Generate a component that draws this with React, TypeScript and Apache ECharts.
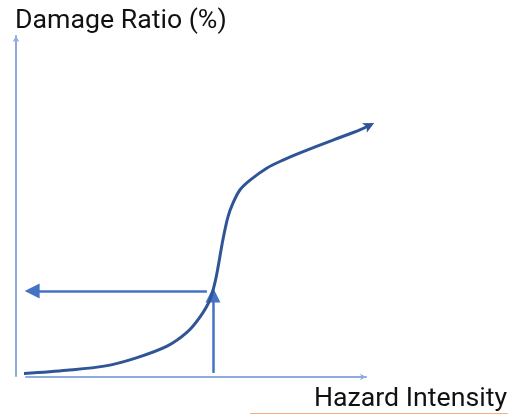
import React, { useEffect, useRef } from "react";
import * as echarts from "echarts";

// Vulnerability curve (data units: 0..100 on both axes)
const hazardIntensity = [-2, 12, 23, 32, 41.5, 47.4, 51.2, 54.1, 55.6, 56.5, 57.9, 59.4, 60.9, 62.9, 65.9, 70.9, 75.6, 80.6, 90.3, 98.2, 102.4];
const damageRatio = [0.6, 1.7, 2.9, 5.2, 8.8, 12.9, 17.4, 22.4, 27.6, 32.1, 40, 46.8, 50.9, 54.7, 57.6, 61.2, 63.5, 65.6, 69.4, 72.4, 74.4];

// Reading arrows
const verticalArrow = [[55, 0.9], [55, 23.8]];
const horizontalArrow = [[53.2, 25], [1.8, 25]];

const yTitle = "Damage Ratio (%)";
const xTitle = "Hazard Intensity";

export default function App() {
  const ref = useRef<HTMLDivElement>(null);
  useEffect(() => {
    if (!ref.current) return;
    const chart = echarts.init(ref.current, undefined, { renderer: "svg" });
    const curveData = hazardIntensity.map((x, i) => {
      const last = i === hazardIntensity.length - 1;
      return last
        ? { value: [x, damageRatio[i]], symbol: "arrow", symbolSize: [8, 11], symbolRotate: -63 }
        : { value: [x, damageRatio[i]], symbol: "none" };
    });
    chart.setOption({
      animation: false,
      grid: { left: 26, right: 142, top: 36, bottom: 38 },
      xAxis: {
        type: "value",
        min: 0,
        max: 100,
        offset: 1,
        axisLine: {
          show: true,
          onZero: false,
          symbol: ["none", "arrow"],
          symbolSize: [5, 6],
          lineStyle: { color: "#8faadc", width: 2 },
        },
        axisTick: { show: false },
        axisLabel: { show: false },
        splitLine: { show: false },
      },
      yAxis: {
        type: "value",
        min: 0,
        max: 100,
        offset: 10,
        axisLine: {
          show: true,
          onZero: false,
          symbol: ["none", "arrow"],
          symbolSize: [5, 6],
          lineStyle: { color: "#8faadc", width: 2 },
        },
        axisTick: { show: false },
        axisLabel: { show: false },
        splitLine: { show: false },
      },
      series: [
        {
          type: "line",
          data: curveData,
          smooth: 0.3,
          clip: false,
          showSymbol: true,
          itemStyle: { color: "#2f5597" },
          lineStyle: { color: "#2f5597", width: 3 },
        },
        {
          type: "lines",
          coordinateSystem: "cartesian2d",
          clip: false,
          symbol: ["none", "triangle"],
          symbolSize: 15,
          lineStyle: { color: "#4472c4", width: 2.5, opacity: 1 },
          itemStyle: { color: "#4472c4" },
          data: [{ coords: verticalArrow }, { coords: horizontalArrow }],
        },
      ],
      graphic: [
        {
          type: "text",
          x: 15,
          y: 5,
          style: { text: yTitle, font: "26.7px Roboto", fill: "#111", verticalAlign: "top" },
        },
        {
          type: "text",
          x: 314,
          y: 383,
          style: { text: xTitle, font: "26.7px Roboto", fill: "#111", verticalAlign: "top" },
        },
        {
          type: "line",
          shape: { x1: 250, y1: 413.5, x2: 508, y2: 413.5 },
          style: { stroke: "#f4b183", lineWidth: 1 },
        },
      ],
    });
    return () => chart.dispose();
  }, []);
  return (
    <div style={{ position: "fixed", left: 0, top: 0 }}>
      <div ref={ref} style={{ width: 508, height: 414 }} />
    </div>
  );
}
